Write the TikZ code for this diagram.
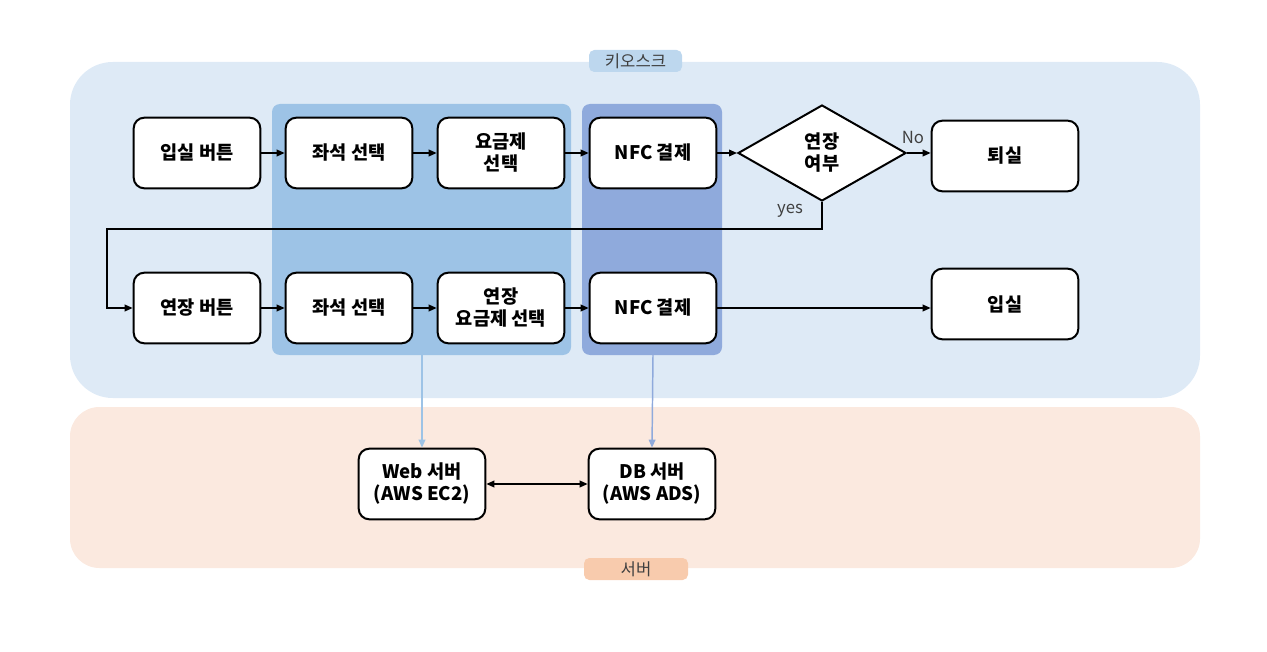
\documentclass[tikz,border=0pt]{standalone}
\usepackage{fontspec}
\newfontfamily\kr{Noto Sans CJK KR}
\usetikzlibrary{arrows.meta,shapes.geometric}
\definecolor{kioskbg}{HTML}{DEEAF6}
\definecolor{kiosklab}{HTML}{BDD7EE}
\definecolor{serverbg}{HTML}{FBE9DF}
\definecolor{serverlab}{HTML}{F8CBAD}
\definecolor{grpA}{HTML}{9DC3E6}
\definecolor{grpB}{HTML}{8FAADC}
\definecolor{labtext}{HTML}{404040}
\tikzset{
  box/.style={draw=black, line width=1.5pt, rounded corners=8pt, fill=white,
    minimum width=95pt, minimum height=53pt, align=center, inner sep=1pt,
    font=\kr\bfseries\fontsize{14}{16.5}\selectfont},
  dec/.style={draw=black, line width=1.5pt, diamond, fill=white, aspect=1.75,
    minimum width=126pt, minimum height=72pt, inner sep=0pt, align=center,
    font=\kr\bfseries\fontsize{14}{16.5}\selectfont},
  flow/.style={line width=1.1pt, -{Triangle[length=6pt,width=5pt]}},
  link/.style={line width=1.1pt, -{Triangle[length=6pt,width=5pt]}},
  lab/.style={font=\kr\fontsize{12.5}{14}\selectfont, text=labtext, inner sep=0pt},
  edgelab/.style={font=\kr\fontsize{12.5}{14}\selectfont, inner sep=1pt, text=labtext}
}
\begin{document}
\begin{tikzpicture}[x=0.75pt,y=-0.75pt]
\useasboundingbox (0,0) rectangle (1267,652);
% regions
\fill[kioskbg, rounded corners=32pt] (70,62) rectangle (1200,398);
\fill[serverbg, rounded corners=22pt] (70,407) rectangle (1200,568);
\fill[kiosklab, rounded corners=4pt] (589,50) rectangle (682,72);
\node[lab] (kl) at (635.5,61) {키오스크};
\fill[serverlab, rounded corners=4pt] (584,558) rectangle (688,580);
\node[lab] (sl) at (636,569) {서버};
% groups
\fill[grpA, rounded corners=6pt] (272,104) rectangle (571,355);
\fill[grpB, rounded corners=6pt] (582,104) rectangle (722,355);
\coordinate (gA) at (422,355);
\coordinate (gB) at (653,355);
% row 1
\node[box] (in1) at (197,153) {입실 버튼};
\node[box] (seat1) at (349,153) {좌석 선택};
\node[box] (fee1) at (501,153) {요금제\\선택};
\node[box] (nfc1) at (653,153) {NFC 결제};
\node[dec] (ext) at (822,153) {연장\\여부};
\node[box, minimum width=110pt] (out) at (1005,156) {퇴실};
% row 2
\node[box] (in2) at (197,308) {연장 버튼};
\node[box] (seat2) at (349,308) {좌석 선택};
\node[box] (fee2) at (501,308) {연장\\요금제 선택};
\node[box] (nfc2) at (653,308) {NFC 결제};
\node[box, minimum width=110pt] (enter) at (1005,304) {입실};
% servers
\node[box] (web) at (422,484) {Web 서버\\(AWS EC2)};
\node[box] (db) at (652,484) {DB 서버\\(AWS ADS)};
% flows
\draw[flow] (in1) -- (seat1);
\draw[flow] (seat1) -- (fee1);
\draw[flow] (fee1) -- (nfc1);
\draw[flow] (nfc1) -- (ext);
\draw[flow] (ext.east) -- (out.west |- ext.east);
\node[edgelab] (nolab) at (913,138) {No};
\draw[flow] (ext.south) -- ++(0,27) -| (107,308) -- (in2.west);
\node[edgelab] (yeslab) at (790,211) {yes};
\draw[flow] (in2) -- (seat2);
\draw[flow] (seat2) -- (fee2);
\draw[flow] (fee2) -- (nfc2);
\draw[flow] (nfc2.east) -- (enter.west |- nfc2.east);
\draw[link, draw=grpA] (gA) -- (web.north);
\draw[link, draw=grpB] (gB) -- (db.north);
\draw[line width=1.1pt, {Triangle[length=6pt,width=5pt]}-{Triangle[length=6pt,width=5pt]}] (web) -- (db);
\end{tikzpicture}
\end{document}
